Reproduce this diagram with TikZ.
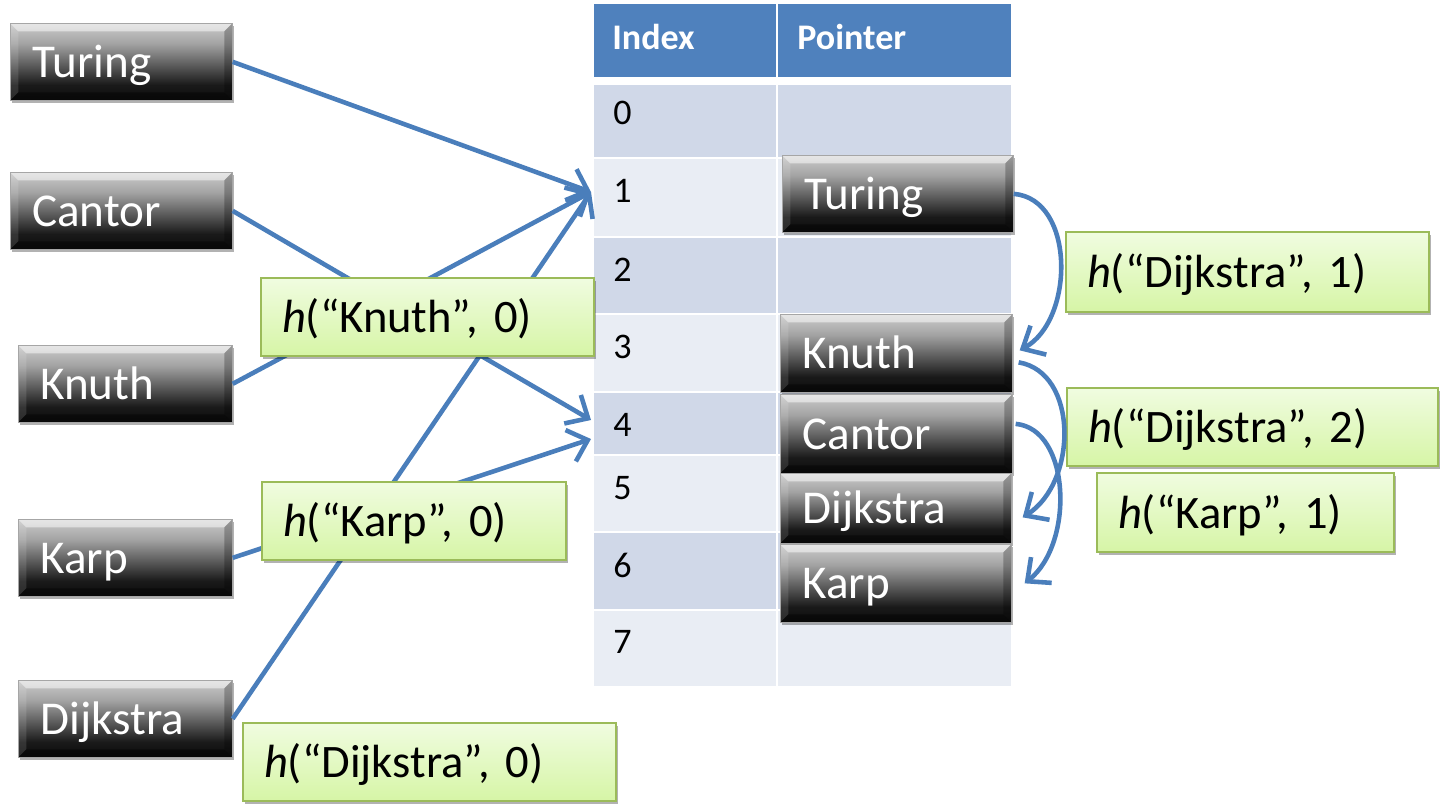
\documentclass[tikz,border=0pt]{standalone}
\usepackage{fontspec}
\setmainfont{Carlito}
\usetikzlibrary{arrows.meta,shadows,calc}
\definecolor{hdr}{HTML}{4F81BD}
\definecolor{rowd}{HTML}{D0D8E8}
\definecolor{rowl}{HTML}{E9EDF4}
\definecolor{arr}{HTML}{4A7EBB}
\definecolor{gtop}{HTML}{F0FCE0}
\definecolor{gbot}{HTML}{D6F5A6}
\definecolor{gbrd}{HTML}{9BBB59}
\pgfdeclareverticalshading{btnshade}{100bp}{color(0bp)=(black!95); color(25bp)=(black!95); color(35bp)=(black!90); color(50bp)=(black!60); color(62bp)=(black!36); color(75bp)=(black!20); color(100bp)=(black!20)}
\tikzset{
  bevel/.style={path picture={
    \fill[white,opacity=0.5] (path picture bounding box.north west) -- (path picture bounding box.north east)
      -- ([xshift=-0.16cm,yshift=-0.16cm]path picture bounding box.north east)
      -- ([xshift=0.16cm,yshift=-0.16cm]path picture bounding box.north west) -- cycle;
    \fill[white,opacity=0.12] (path picture bounding box.north west) -- ([xshift=0.16cm,yshift=-0.16cm]path picture bounding box.north west)
      -- ([xshift=0.16cm,yshift=0.16cm]path picture bounding box.south west) -- (path picture bounding box.south west) -- cycle;
    \fill[black,opacity=0.25] (path picture bounding box.north east) -- ([xshift=-0.16cm,yshift=-0.16cm]path picture bounding box.north east)
      -- ([xshift=-0.16cm,yshift=0.16cm]path picture bounding box.south east) -- (path picture bounding box.south east) -- cycle;
    \fill[black,opacity=0.4] (path picture bounding box.south west) -- ([xshift=0.16cm,yshift=0.16cm]path picture bounding box.south west)
      -- ([xshift=-0.16cm,yshift=0.16cm]path picture bounding box.south east) -- (path picture bounding box.south east) -- cycle;
  }},
  btn/.style={anchor=north west, shading=btnshade, draw=black!35, line width=0.4pt, text=white,
    font=\fontsize{26.8}{30}\selectfont, align=left, inner xsep=0.44cm, inner ysep=0pt,
    minimum height=1.54cm, bevel, text height=24.8pt, text depth=7pt},
  shd/.style={drop shadow={shadow xshift=1.2pt, shadow yshift=-1.6pt, opacity=0.3, fill=black}},
  hbox/.style={anchor=north west, top color=gtop, bottom color=gbot, draw=gbrd, line width=1.2pt,
    font=\fontsize{26.5}{30}\selectfont, align=left, inner xsep=0.42cm, inner ysep=0pt,
    minimum height=1.56cm, shd, text height=24.8pt, text depth=7pt},
  ptr/.style={draw=arr, line width=2.6pt, -{Straight Barb[length=0.36cm, width=0.66cm]}},
  hdrtxt/.style={text=white, font=\fontsize{20.5}{24}\selectfont\bfseries, anchor=west, inner sep=0pt},
  idx/.style={font=\fontsize{20.5}{24}\selectfont, anchor=west, inner sep=0pt},
}
\begin{document}
\begin{tikzpicture}[x=0.02cm, y=-0.02cm]
\useasboundingbox (0,0) rectangle (1441,806);
% table
\fill[hdr] (594,4) rectangle (776,77);
\fill[hdr] (778,4) rectangle (1011,77);
\fill[rowd] (594,85) rectangle (776,157);  \fill[rowd] (778,85) rectangle (1011,157);
\fill[rowl] (594,159) rectangle (776,236); \fill[rowl] (778,159) rectangle (1011,236);
\fill[rowd] (594,238) rectangle (776,313); \fill[rowd] (778,238) rectangle (1011,313);
\fill[rowl] (594,315) rectangle (776,391); \fill[rowl] (778,315) rectangle (1011,391);
\fill[rowd] (594,393) rectangle (776,454); \fill[rowd] (778,393) rectangle (1011,454);
\fill[rowl] (594,456) rectangle (776,531); \fill[rowl] (778,456) rectangle (1011,531);
\fill[rowd] (594,533) rectangle (776,609); \fill[rowd] (778,533) rectangle (1011,609);
\fill[rowl] (594,611) rectangle (776,686); \fill[rowl] (778,611) rectangle (1011,686);
\node[hdrtxt] (hI) at (612,37) {Index};
\node[hdrtxt] (hP) at (797,37) {Pointer};
\node[idx] (i0) at (613,113) {0};
\node[idx] (i1) at (613,191) {1};
\node[idx] (i2) at (613,270) {2};
\node[idx] (i3) at (613,347) {3};
\node[idx] (i4) at (613,425) {4};
\node[idx] (i5) at (613,488) {5};
\node[idx] (i6) at (613,565) {6};
\node[idx] (i7) at (613,642) {7};
\coordinate (r1) at (591,192);
\coordinate (r4a) at (591,420);
\coordinate (r4b) at (591,439);
% left keys
\node[btn, shd, text width=3.56cm] (lTur) at (10,23) {Turing};
\node[btn, shd, text width=3.56cm] (lCan) at (10,172) {Cantor};
\node[btn, shd, text width=3.40cm] (lKnu) at (18,345) {Knuth};
\node[btn, shd, text width=3.40cm] (lKar) at (18,519) {Karp};
\node[btn, shd, text width=3.40cm] (lDij) at (18,680) {Dijkstra};
% straight arrows
\draw[ptr] (lTur.east) -- (r1);
\draw[ptr] (lCan.east) -- (r4a);
\draw[ptr] (lKnu.east) -- (r1);
\draw[ptr] (lKar.east) -- (r4b);
\draw[ptr] (lDij.east) -- (r1);
% hash labels
\node[hbox, text width=5.82cm] (gKnu0) at (260,277) {\textit{h}(“Knuth”, 0)};
\node[hbox, text width=5.24cm] (gKar0) at (261,481) {\textit{h}(“Karp”, 0)};
\node[hbox, text width=6.62cm] (gDij0) at (242,722) {\textit{h}(“Dijkstra”, 0)};
% pointer column
\node[btn, shd, text width=3.74cm] (pTur) at (782,155) {Turing};
\node[btn, shd, text width=3.76cm, minimum height=1.56cm] (pKnu) at (780,314) {Knuth};
\node[btn, shd, text width=3.76cm, minimum height=1.58cm] (pCan) at (780,394) {Cantor};
\node[btn, shd, text width=3.74cm, minimum height=1.40cm] (pDij) at (780,473) {Dijkstra};
\node[btn, shd, text width=3.74cm, minimum height=1.56cm] (pKar) at (780,544) {Karp};
% right labels
\node[hbox, text width=6.42cm, minimum height=1.60cm] (gDij1) at (1065,231) {\textit{h}(“Dijkstra”, 1)};
\node[hbox, text width=6.58cm] (gDij2) at (1066,387) {\textit{h}(“Dijkstra”, 2)};
\node[hbox, text width=5.10cm, minimum height=1.58cm] (gKar1) at (1096,472) {\textit{h}(“Karp”, 1)};
% chain arrows
\draw[ptr] (pTur.east) .. controls +(62,5) and +(55,-30) .. ([xshift=0.14cm,yshift=0.06cm]pKnu.east);
\draw[ptr] ([xshift=0.12cm,yshift=-0.18cm]pKnu.east) .. controls +(60,10) and +(55,-35) .. ([xshift=0.22cm,yshift=-0.18cm]pDij.east);
\draw[ptr] ([xshift=0.06cm,yshift=0.2cm]pCan.east) .. controls +(55,5) and +(50,-40) .. ([xshift=0.26cm]pKar.east);
\end{tikzpicture}
\end{document}
